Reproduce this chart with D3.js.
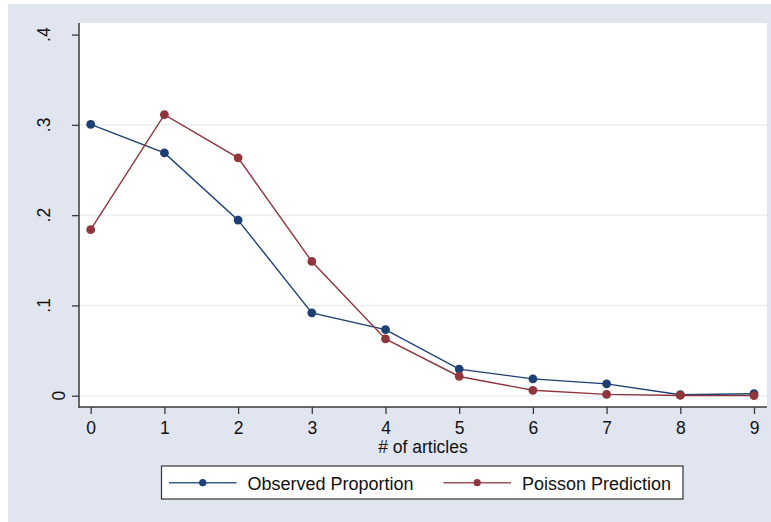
<!DOCTYPE html>
<html>
<head>
<meta charset="utf-8">
<script src="https://cdn.jsdelivr.net/npm/d3@7"></script>
<style>
  html, body { margin: 0; padding: 0; background: #ffffff; }
  svg { display: block; font-family: "Liberation Sans", Arial, sans-serif; }
</style>
</head>
<body>
<svg id="chart" width="771" height="522"></svg>
<script>
// ---- data ----
const articles = [0, 1, 2, 3, 4, 5, 6, 7, 8, 9];
const observed = [0.3005, 0.2689, 0.1945, 0.0918, 0.0732, 0.0295, 0.0186, 0.0131, 0.0011, 0.0022];
const poisson  = [0.1839, 0.3113, 0.2635, 0.1487, 0.0629, 0.0213, 0.0060, 0.0015, 0.0003, 0.0001];
const yTicks = [0, 0.1, 0.2, 0.3, 0.4];
const yTickLabels = ["0", ".1", ".2", ".3", ".4"];
const seriesNames = ["Observed Proportion", "Poisson Prediction"];
const xTitle = "# of articles";

// ---- styles ----
const W = 771, H = 522;
const bg = "#e0e5f0";
const navy = "#1e3f73";
const maroon = "#90353b";
const axisColor = "#3a3a3a";
const gridColor = "#e9eff3";
const textColor = "#111111";

const plot = { left: 79, right: 767, top: 23, bottom: 407 };

const svg = d3.select("#chart");

// background region
svg.append("rect").attr("x", 8).attr("y", 4).attr("width", W - 8).attr("height", H - 4).attr("fill", bg);
// plot region
svg.append("rect").attr("x", plot.left).attr("y", plot.top)
  .attr("width", plot.right - plot.left).attr("height", plot.bottom - plot.top).attr("fill", "#ffffff");

const x = d3.scaleLinear().domain([0, 9]).range([90.7, 754]);
const y = d3.scaleLinear().domain([0, 0.4]).range([395.7, 34.6]);

// gridlines (Stata omits the top one)
svg.append("g").selectAll("line").data(yTicks.filter(t => t < 0.4)).join("line")
  .attr("x1", plot.left).attr("x2", plot.right)
  .attr("y1", d => y(d)).attr("y2", d => y(d))
  .attr("stroke", gridColor).attr("stroke-width", 1.5);

// x axis
const xAxis = d3.axisBottom(x).tickValues(articles).tickFormat(d3.format("d"))
  .tickSize(7).tickPadding(8).tickSizeOuter(0);
const gx = svg.append("g").attr("transform", `translate(0,${plot.bottom})`).call(xAxis);
gx.select(".domain").remove();
gx.selectAll(".tick line").attr("stroke", axisColor).attr("stroke-width", 1.3);
gx.selectAll(".tick text").attr("fill", textColor).style("font-size", "17.5px")
  .style("font-family", "'Liberation Sans', Arial, sans-serif");
svg.append("line").attr("x1", plot.left - 0.5).attr("x2", plot.right)
  .attr("y1", plot.bottom).attr("y2", plot.bottom)
  .attr("stroke", axisColor).attr("stroke-width", 1.5);

// y axis
const yAxis = d3.axisLeft(y).tickValues(yTicks).tickFormat("").tickSize(7).tickSizeOuter(0);
const gy = svg.append("g").attr("transform", `translate(${plot.left},0)`).call(yAxis);
gy.select(".domain").remove();
gy.selectAll(".tick line").attr("stroke", axisColor).attr("stroke-width", 1.3);
svg.append("line").attr("x1", plot.left).attr("x2", plot.left)
  .attr("y1", plot.top).attr("y2", plot.bottom + 0.7)
  .attr("stroke", axisColor).attr("stroke-width", 1.5);
// rotated y tick labels
svg.append("g").selectAll("text").data(yTicks).join("text")
  .attr("transform", (d, i) => `translate(${yTickLabels[i].startsWith(".") ? 50 : 65},${y(d)}) rotate(-90)`)
  .attr("text-anchor", "middle")
  .attr("fill", textColor)
  .style("font-size", "17.5px")
  .text((d, i) => yTickLabels[i]);

// x axis title
svg.append("text").attr("x", (plot.left + plot.right) / 2).attr("y", 453)
  .attr("text-anchor", "middle").attr("fill", textColor).style("font-size", "17.5px")
  .text(xTitle);

// series
const series = [
  { name: seriesNames[0], values: observed, color: navy },
  { name: seriesNames[1], values: poisson, color: maroon }
];
const line = d3.line().x((d, i) => x(articles[i])).y(d => y(d));
series.forEach(s => {
  svg.append("path").datum(s.values).attr("d", line)
    .attr("fill", "none").attr("stroke", s.color).attr("stroke-width", 1.4);
  svg.append("g").selectAll("circle").data(s.values).join("circle")
    .attr("cx", (d, i) => x(articles[i])).attr("cy", d => y(d))
    .attr("r", 4.4).attr("fill", s.color);
});

// legend
const lg = svg.append("g");
lg.append("rect").attr("x", 161.5).attr("y", 466).attr("width", 521.5).attr("height", 33)
  .attr("fill", "#ffffff").attr("stroke", "#333333").attr("stroke-width", 1.2);
const legendX = [169, 443.5];
series.forEach((s, i) => {
  const lx = legendX[i];
  lg.append("line").attr("x1", lx).attr("x2", lx + 67.5).attr("y1", 482.7).attr("y2", 482.7)
    .attr("stroke", s.color).attr("stroke-width", 1.4).attr("stroke-opacity", 0.85);
  lg.append("circle").attr("cx", lx + 33.7).attr("cy", 482.7).attr("r", 3.6).attr("fill", s.color);
  lg.append("text").attr("x", lx + 78.5).attr("y", 490).attr("fill", textColor)
    .style("font-size", "18px").text(s.name);
});
</script>
</body>
</html>
